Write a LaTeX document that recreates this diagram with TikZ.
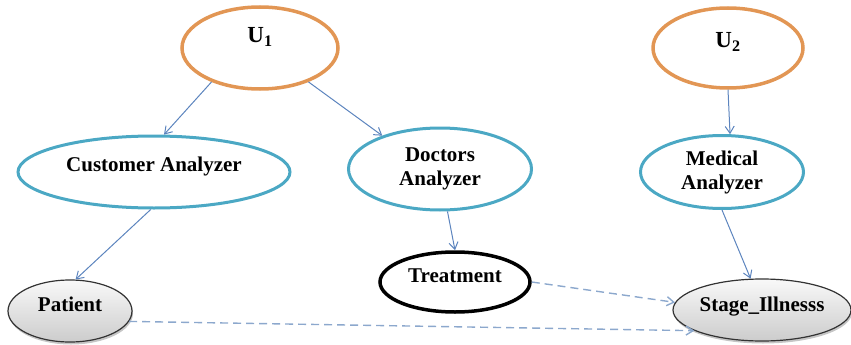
\documentclass[tikz,border=0pt]{standalone}
\usepackage{fontspec}
\setmainfont{Liberation Serif}
\usetikzlibrary{shapes.geometric,arrows.meta,shadows}
\definecolor{unitorange}{RGB}{226,150,84}
\definecolor{agentblue}{RGB}{75,168,196}
\definecolor{linkblue}{RGB}{92,132,190}
\definecolor{dashblue}{RGB}{140,168,205}
\tikzset{
  base/.style={ellipse, inner sep=0pt, align=center,
    font=\fontsize{21}{24}\selectfont\bfseries},
  lift/.style={text height=14pt, text depth=#1},
  unit/.style={base, draw=unitorange, line width=3.5pt},
  agent/.style={base, draw=agentblue, line width=3pt},
  decision/.style={base, draw=black, line width=3.5pt},
  chance/.style={base, draw=black!80, line width=1.2pt,
    top color=gray!5, bottom color=gray!40,
    drop shadow={shadow xshift=1pt, shadow yshift=-2.5pt, opacity=0.45}},
  link/.style={-{Straight Barb[length=7pt,width=9pt]}, linkblue, line width=1pt},
  infolink/.style={link, dashblue, line width=1.4pt, dash pattern=on 8pt off 5pt}
}
\begin{document}
\begin{tikzpicture}[x=1pt,y=-1pt]
    \useasboundingbox (0,0) rectangle (851,345);

    % utility nodes
    \node (u1) [unit, lift=24pt, minimum width=156pt, minimum height=82pt] at (260,48) {\fontsize{23}{26}\selectfont U\textsubscript{1}};
    \node (u2) [unit, lift=14pt, minimum width=150pt, minimum height=80pt] at (728,48) {\fontsize{23}{26}\selectfont U\textsubscript{2}};

    % analyzers
    \node (cust) [agent, lift=16pt, minimum width=272pt, minimum height=72pt] at (154,172) {Customer Analyzer};
    \node (doc)  [agent, minimum width=183pt, minimum height=82pt] at (440,169) {Doctors\\Analyzer};
    \node (med)  [agent, minimum width=163pt, minimum height=73pt] at (722,172) {Medical\\Analyzer};

    % decision and chance nodes
    \node (treat) [decision, lift=14pt, minimum width=150pt, minimum height=60pt] at (455,282) {Treatment};
    \node (pat)   [chance, lift=14pt, minimum width=124pt, minimum height=62pt] at (70,311) {Patient};
    \node (stage) [chance, lift=12pt, minimum width=178pt, minimum height=62pt] at (762,310) {Stage\_Illnesss};

    \path[link] (u1.-145) edge (cust.75);
    \path[link] (u1.-35) edge (doc.150);
    \path[link] (u2.south) edge (med.78);
    \path[link] (cust.-95) edge (pat.80);
    \path[link] (doc.-80) edge (treat.north);
    \path[link] (med.south) edge (stage.110);

    \path[infolink] (treat.east) edge (stage.175);
    \path[infolink] (pat.-10) edge (stage.-163);
  \end{tikzpicture}
\end{document}
